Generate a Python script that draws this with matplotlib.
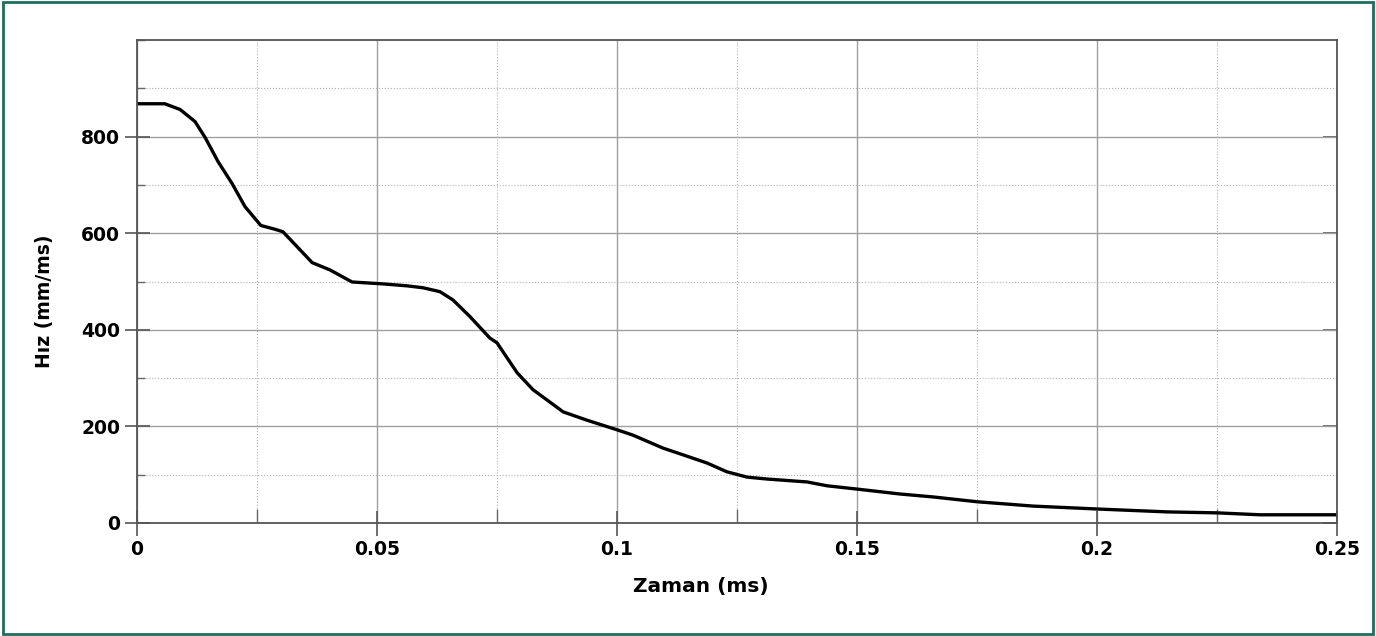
import matplotlib.pyplot as plt
import numpy as np
from matplotlib.ticker import MultipleLocator
from matplotlib.patches import Rectangle

# Zaman (ms) ve Hiz (mm/ms)
zaman = [0.0, 0.0058, 0.009, 0.0121, 0.0142, 0.0169, 0.0198, 0.0225, 0.0258,
         0.0288, 0.0304, 0.0365, 0.0402, 0.0448, 0.0513, 0.0563, 0.0596, 0.0631,
         0.0658, 0.0694, 0.0735, 0.075, 0.0792, 0.0825, 0.0888, 0.0937, 0.1,
         0.1033, 0.1096, 0.1138, 0.1188, 0.1229, 0.1271, 0.1313, 0.1396, 0.1438,
         0.1502, 0.159, 0.1658, 0.175, 0.1867, 0.2, 0.2146, 0.225, 0.234, 0.25]
hiz = [868, 868, 856, 831, 798, 748, 703, 655, 616,
       608, 603, 539, 524, 499, 495, 491, 487, 479,
       462, 427, 383, 373, 311, 276, 230, 213, 193,
       182, 155, 141, 124, 106, 95, 91, 85, 77,
       70, 60, 54, 44, 35, 29, 23, 21, 17, 17]

fig = plt.figure(figsize=(13.76, 6.36), dpi=100)
ax = fig.add_axes([137/1376, 1 - 523/636, 1200/1376, 483/636])

ax.plot(zaman, hiz, color='black', linewidth=2.4, solid_joinstyle='round')

ax.set_xlim(0, 0.25)
ax.set_ylim(0, 1000)
ax.set_xticks([0, 0.05, 0.1, 0.15, 0.2, 0.25])
ax.set_xticklabels(['0', '0.05', '0.1', '0.15', '0.2', '0.25'])
ax.set_yticks([0, 200, 400, 600, 800])
ax.xaxis.set_minor_locator(MultipleLocator(0.025))
ax.yaxis.set_minor_locator(MultipleLocator(100))

ax.grid(which='major', color='#a0a0a0', linewidth=1.0, linestyle='-')
ax.grid(which='minor', color='#b0b0b0', linewidth=0.8, linestyle=':')

ax.tick_params(which='major', direction='inout', length=18, width=1.2, color='#555555',
               top=False, right=False, labelsize=13.5, pad=3)
ax.tick_params(axis='y', which='minor', direction='in', length=6, width=1.0,
               color='#666666', right=False)
ax.tick_params(axis='x', which='minor', direction='in', length=10, width=1.0,
               color='#666666', top=False)
for lab in ax.get_xticklabels() + ax.get_yticklabels():
    lab.set_fontweight('bold')

# sag tarafta sadece iceri bakan ana isaretler
sag = ax.secondary_yaxis('right')
sag.set_yticks([0, 200, 400, 600, 800])
sag.tick_params(direction='in', length=10, width=1.2, color='#555555', labelright=False)
sag.yaxis.set_minor_locator(plt.NullLocator())
sag.spines['right'].set_visible(False)

for sp in ax.spines.values():
    sp.set_color('#555555')
    sp.set_linewidth(1.3)

ax.set_xlabel('Zaman (ms)', fontsize=14.5, fontweight='bold')
ax.set_ylabel('Hız (mm/ms)', fontsize=13.5, fontweight='bold')
ax.xaxis.set_label_coords(0.47, -0.112)
ax.yaxis.set_label_coords(-0.069, 0.46)

# cerceve
fig.patches.append(Rectangle((0.002, 0.003), 0.996, 0.994, transform=fig.transFigure,
                             fill=False, edgecolor='#1f6e5c', linewidth=2))

fig.savefig('out.png', dpi=100)
